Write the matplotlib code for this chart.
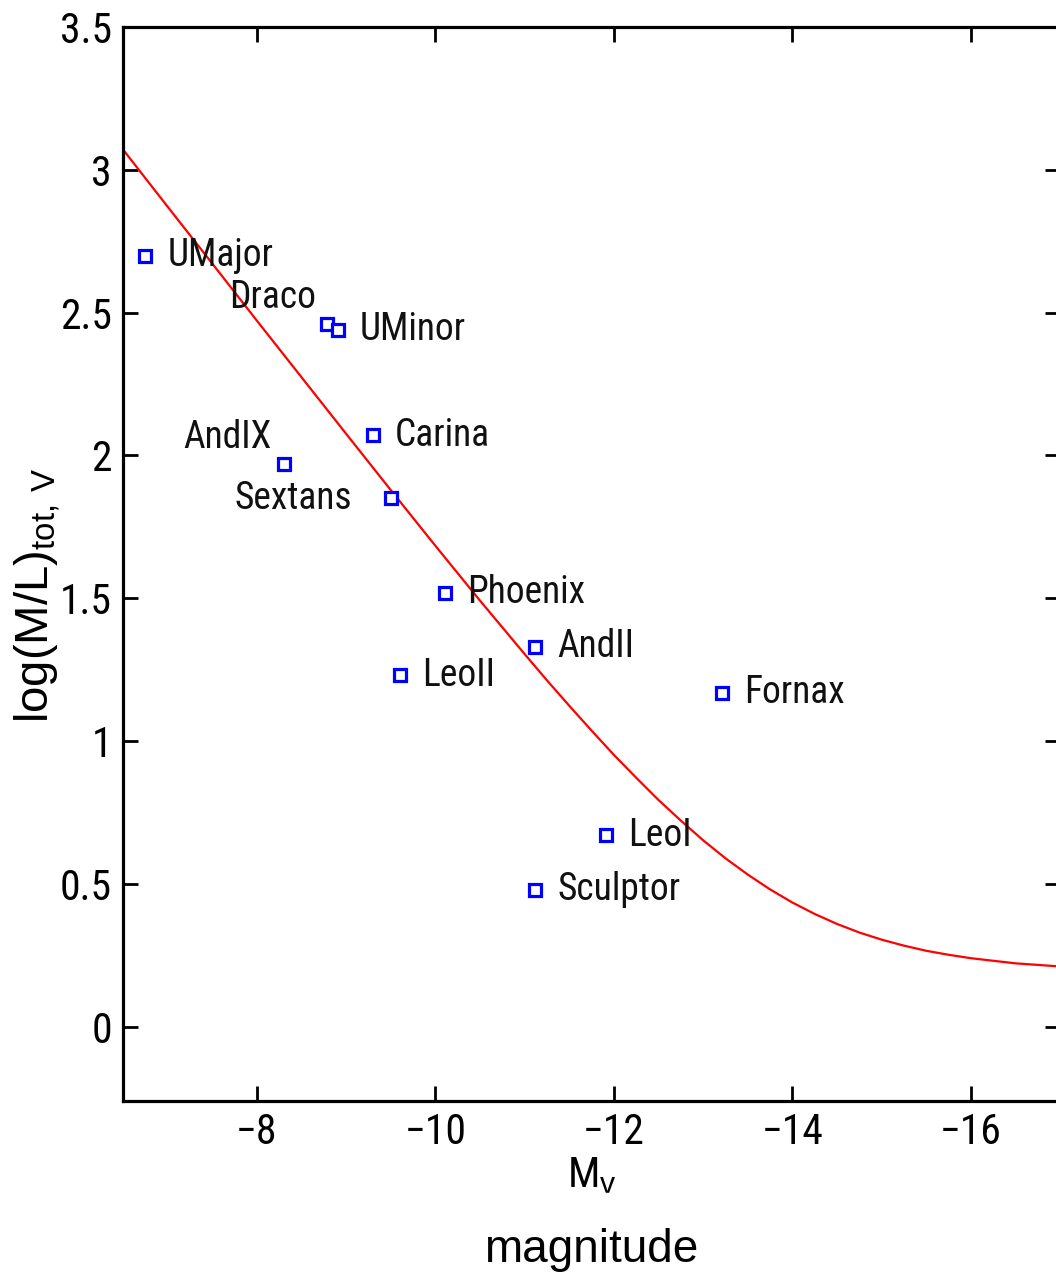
import numpy as np
import matplotlib
matplotlib.use('Agg')
import matplotlib.pyplot as plt
from matplotlib.patches import Rectangle

# dwarf galaxies: absolute magnitude and log(M/L)
names = ['UMajor', 'Draco', 'UMinor', 'Carina', 'AndIX', 'Sextans',
         'Phoenix', 'AndII', 'LeoII', 'Fornax', 'LeoI', 'Sculptor']
mag = [-6.75, -8.79, -8.91, -9.30, -8.30, -9.50,
       -10.11, -11.12, -9.60, -13.21, -11.91, -11.12]
logml = [2.70, 2.46, 2.44, 2.07, 1.97, 1.85,
         1.52, 1.33, 1.23, 1.17, 0.67, 0.48]

# red model curve (denser where it bends)
curve_mag = [-6.5, -7.0, -7.5, -8.0, -8.5, -9.0, -9.5, -10.0, -10.5,
             -11.0, -11.25, -11.5, -11.75, -12.0, -12.25, -12.5, -12.75,
             -13.0, -13.25, -13.5, -13.75, -14.0, -14.25, -14.5, -14.75,
             -15.0, -15.25, -15.5, -15.75, -16.0, -16.5, -17.0]
curve_logml = [3.071, 2.871, 2.672, 2.472, 2.274, 2.076, 1.879, 1.684, 1.492,
               1.305, 1.213, 1.124, 1.037, 0.952, 0.872, 0.794, 0.722,
               0.653, 0.590, 0.533, 0.481, 0.435, 0.395, 0.360, 0.330,
               0.305, 0.284, 0.266, 0.252, 0.240, 0.222, 0.211]

# label offsets in pixels (dx, dy, alignment)
offsets = {'Draco': (-11, 27, 'right'), 'AndIX': (-12, 27, 'right'),
           'Sextans': (-39, 0, 'right')}

narrow = ['Roboto Condensed', 'Archivo Narrow', 'Liberation Sans', 'DejaVu Sans']
plt.rcParams['font.family'] = narrow
plt.rcParams['mathtext.fontset'] = 'custom'
plt.rcParams['mathtext.rm'] = 'Liberation Sans'

W, H = 1056, 1274
fig = plt.figure(figsize=(W / 100, H / 100), dpi=100)
ax = fig.add_axes([123 / W, (H - 1101) / H, 937 / W, (1101 - 27) / H])

ax.plot(curve_mag, curve_logml, color='red', lw=1.6, zorder=2)
ax.plot(mag, logml, 's', ms=9, mfc='white', mec='blue', mew=2.3, zorder=3)

for n, x, y in zip(names, mag, logml):
    dx, dy, ha = offsets.get(n, (22, 0, 'left'))
    ax.annotate(n, (x, y), xytext=(dx * 0.72, dy * 0.72), textcoords='offset points',
                ha=ha, va='center', fontsize=27, color='#111111')

ax.set_xlim(-6.5, -17)
ax.set_ylim(-0.26, 3.5)
ax.set_xticks([-8, -10, -12, -14, -16])
ax.set_xticklabels(['\u22128', '\u221210', '\u221212', '\u221214', '\u221216'])
ax.set_yticks([0, 0.5, 1, 1.5, 2, 2.5, 3, 3.5])
ax.set_yticklabels(['0', '0.5', '1', '1.5', '2', '2.5', '3', '3.5'])
ax.tick_params(direction='in', top=True, right=True, length=11, width=2,
               labelsize=30, pad=8, colors='black')
for s in ax.spines.values():
    s.set_linewidth(2.3)

fig.text(38 / W, 1 - 595 / H, r'log(M/L)$_{\rm tot,\,V}$', rotation=90,
         ha='center', va='center', fontsize=34, family=['Liberation Sans'])

fig.text(592 / W, 1 - 1176 / H, r'M$_{\rm v}$', ha='center', va='center', fontsize=31)
fig.add_artist(Rectangle((555 / W, 1 - 1228 / H), 90 / W, 35 / H,
                         transform=fig.transFigure, color='white', zorder=10))

fig.text(591 / W, 1 - 1250 / H, 'magnitude', ha='center', va='center',
         fontsize=33, family=['Liberation Sans'], zorder=11)

fig.savefig('out.png', dpi=100)
